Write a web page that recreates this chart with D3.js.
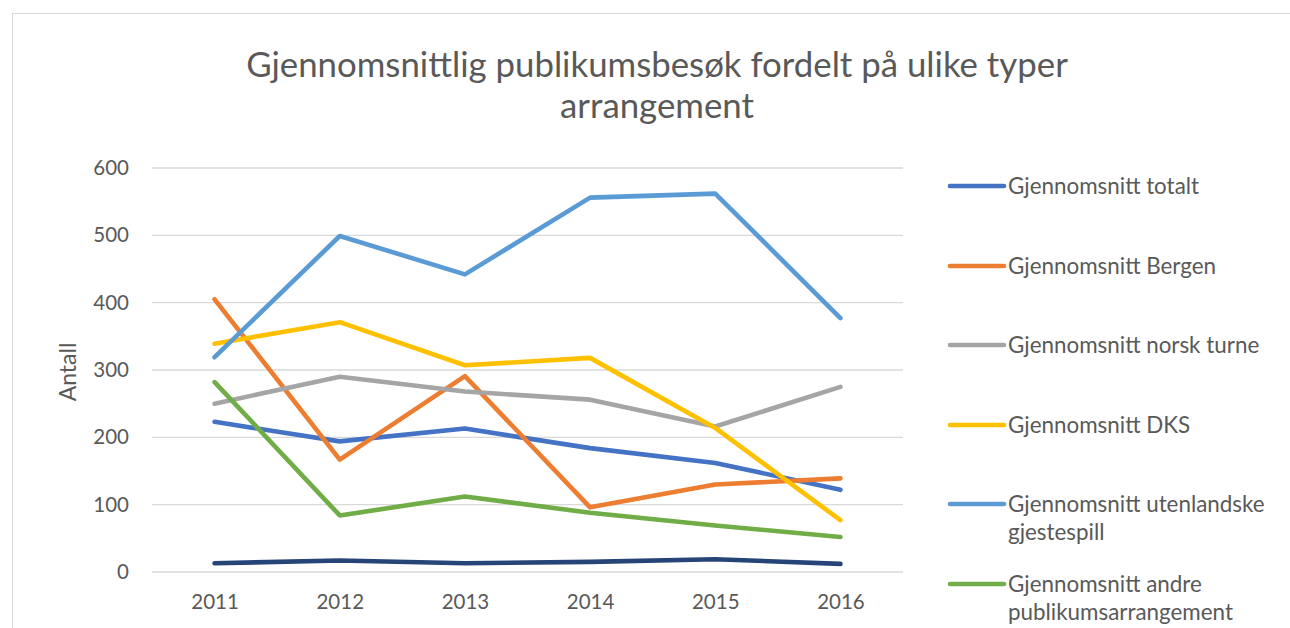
<!DOCTYPE html>
<html>
<head>
<meta charset="utf-8">
<script src="https://cdn.jsdelivr.net/npm/d3@7"></script>
<style>
  body { margin: 0; background: #fff; }
  text { font-family: Lato, "Open Sans", sans-serif; fill: #595959; }
</style>
</head>
<body>
<div id="chart"></div>
<script>
// Chart data
var years = ["2011", "2012", "2013", "2014", "2015", "2016"];
var yTicks = [0, 100, 200, 300, 400, 500, 600];

var totalt      = [223, 194, 213, 184, 162, 122];
var bergen      = [405, 167, 291, 96, 130, 139];
var norskTurne  = [250, 290, 268, 256, 216, 275];
var dks         = [339, 371, 307, 318, 214, 77];
var utenlandske = [319, 499, 442, 556, 562, 377];
var andre       = [282, 84, 112, 88, 69, 52];
var serie7      = [13, 17, 13, 15, 19, 12];

var seriesNames = [
  ["Gjennomsnitt totalt"],
  ["Gjennomsnitt Bergen"],
  ["Gjennomsnitt norsk turne"],
  ["Gjennomsnitt DKS"],
  ["Gjennomsnitt utenlandske", "gjestespill"],
  ["Gjennomsnitt andre", "publikumsarrangement"]
];

var colors = ["#4472C4", "#ED7D31", "#A5A5A5", "#FFC000", "#5B9BD5", "#70AD47", "#264478"];
var allSeries = [totalt, bergen, norskTurne, dks, utenlandske, andre, serie7];

var svgWidth = 1290;
var svgHeight = 628;

var svg = d3.select("#chart")
  .append("svg")
  .attr("width", svgWidth)
  .attr("height", svgHeight);

// chart border
svg.append("rect")
  .attr("x", 12.5)
  .attr("y", 13.5)
  .attr("width", svgWidth)
  .attr("height", svgHeight)
  .attr("fill", "none")
  .attr("stroke", "#D9D9D9")
  .attr("stroke-width", 1);

// scales
var xScale = d3.scalePoint()
  .domain(years)
  .range([152, 903])
  .padding(0.5);

var yScale = d3.scaleLinear()
  .domain([0, 600])
  .range([572, 168]);

// gridlines
svg.append("g")
  .selectAll("line")
  .data(yTicks)
  .enter().append("line")
    .attr("x1", 152)
    .attr("x2", 903)
    .attr("y1", d => yScale(d))
    .attr("y2", d => yScale(d))
    .attr("stroke", "#D9D9D9")
    .attr("stroke-width", 1.3);

// y axis
var leftAxis = d3.axisLeft(yScale).tickValues(yTicks).tickSize(0).tickPadding(0);
var yAxisG = svg.append("g")
  .attr("transform", "translate(129,0)")
  .call(leftAxis);
yAxisG.select(".domain").remove();
yAxisG.selectAll("text")
  .style("font-size", "20.5px")
  .style("font-family", "Lato, sans-serif")
  .attr("fill", "#595959");

// x axis
var bottomAxis = d3.axisBottom(xScale).tickSize(0).tickPadding(0);
var xAxisG = svg.append("g")
  .attr("transform", "translate(0,594)")
  .call(bottomAxis);
xAxisG.select(".domain").remove();
xAxisG.selectAll("text")
  .style("font-size", "20.5px")
  .style("font-family", "Lato, sans-serif")
  .attr("fill", "#595959");

// y axis title
svg.append("text")
  .attr("transform", "translate(76,372) rotate(-90)")
  .attr("text-anchor", "middle")
  .style("font-size", "23px")
  .text("Antall");

// title
svg.append("text")
  .attr("x", 657)
  .attr("y", 77)
  .attr("text-anchor", "middle")
  .style("font-size", "34.8px")
  .text("Gjennomsnittlig publikumsbesøk fordelt på ulike typer");
svg.append("text")
  .attr("x", 657)
  .attr("y", 118)
  .attr("text-anchor", "middle")
  .style("font-size", "34.8px")
  .text("arrangement");

// lines
var line = d3.line()
  .x((d, i) => xScale(years[i]))
  .y(d => yScale(d));

svg.append("g")
  .selectAll("path")
  .data(allSeries)
  .enter().append("path")
    .attr("d", d => line(d))
    .attr("fill", "none")
    .attr("stroke", (d, i) => colors[i])
    .attr("stroke-width", 4.6)
    .attr("stroke-linecap", "round")
    .attr("stroke-linejoin", "round");

// legend
var legendY = [186, 266, 345, 425, 504, 584];
var legend = svg.append("g")
  .selectAll("g")
  .data(seriesNames)
  .enter().append("g")
    .attr("transform", (d, i) => `translate(0,${legendY[i]})`);

legend.append("line")
  .attr("x1", 950)
  .attr("x2", 1004)
  .attr("y1", 0)
  .attr("y2", 0)
  .attr("stroke", (d, i) => colors[i])
  .attr("stroke-width", 4.6)
  .attr("stroke-linecap", "round");

legend.each(function(d) {
  var t = d3.select(this).append("text")
    .attr("x", 1008)
    .attr("y", 7.5)
    .style("font-size", "22.4px");
  d.forEach(function(s, j) {
    t.append("tspan")
      .attr("x", 1008)
      .attr("dy", j === 0 ? 0 : 28.5)
      .text(s);
  });
});
</script>
</body>
</html>
